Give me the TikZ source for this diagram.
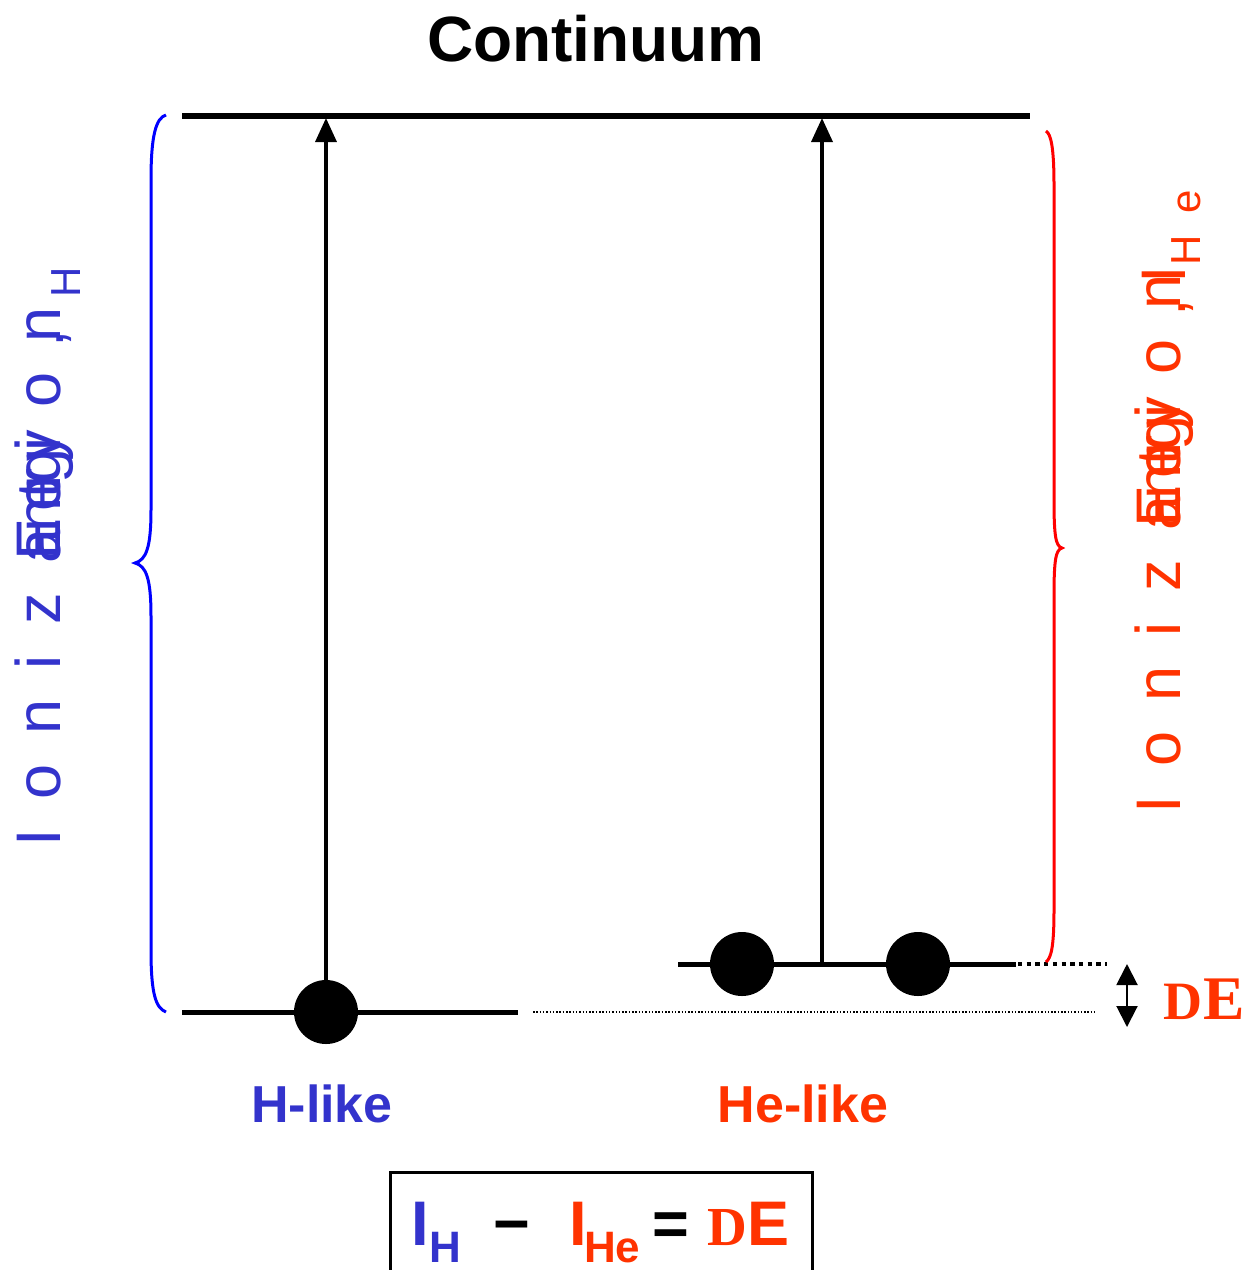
\documentclass[tikz,border=0pt]{standalone}
\usepackage{fontspec}
\setmainfont{Liberation Sans}
\newfontfamily\serifbf{Liberation Serif}
\usetikzlibrary{arrows.meta}
\definecolor{hblue}{HTML}{3333CC}
\definecolor{hered}{HTML}{FF3300}
\definecolor{bblue}{HTML}{0000FF}
\definecolor{bred}{HTML}{FF0000}
\begin{document}
\begin{tikzpicture}[x=1pt,y=-1pt,
  lvl/.style={line width=5pt},
  shaft/.style={line width=3.5pt,-{Triangle[length=24pt,width=21pt]}},
  dotnode/.style={circle,fill=black,minimum size=64pt,inner sep=0pt},
  rotl/.style={rotate=90,anchor=base,inner sep=0pt,font=\fontsize{63}{70}\selectfont},
  rots/.style={rotate=90,anchor=base,inner sep=0pt,font=\fontsize{42}{48}\selectfont},
  lbl/.style={anchor=base,inner sep=0pt,font=\bfseries\fontsize{52}{60}\selectfont},
  eqbig/.style={anchor=base west,inner sep=0pt,font=\bfseries\fontsize{63}{70}\selectfont},
  eqsub/.style={anchor=base west,inner sep=0pt,font=\bfseries\fontsize{44}{50}\selectfont},
  brace/.style={line width=3pt}]
\useasboundingbox (0,0) rectangle (1251,1270);

% title
\node[anchor=base,inner sep=0pt,font=\bfseries\fontsize{64}{70}\selectfont] (cont) at (596,61) {Continuum};

% continuum line
\coordinate (c1) at (182,116);
\coordinate (c2) at (1030,116);
\draw[line width=6pt] (c1) -- (c2);

% H-like level
\coordinate (h1) at (182,1012);
\coordinate (h2) at (518,1012);
\draw[lvl] (h1) -- (h2);
\node[dotnode] (hdot) at (326,1012) {};
\coordinate (tH) at (326,118);
\draw[shaft] (hdot.center) -- (tH);

% He-like level
\coordinate (e1) at (678,964);
\coordinate (e2) at (1016,964);
\draw[lvl] (e1) -- (e2);
\node[dotnode] (edot1) at (742,964) {};
\node[dotnode] (edot2) at (918,964) {};
\coordinate (eb) at (822,964);
\coordinate (tHe) at (822,118);
\draw[shaft] (eb) -- (tHe);

% dotted lines
\coordinate (d1) at (533,1012);
\coordinate (d2) at (1095,1012);
\draw[line width=1.4pt,dash pattern=on 1.5pt off 1.8pt] (d1) -- (d2);
\coordinate (d3) at (1018,964);
\coordinate (d4) at (1107,964);
\draw[line width=4.3pt,dash pattern=on 4.3pt off 4.4pt] (d3) -- (d4);

% Delta E arrow
\coordinate (de1) at (1127,964);
\coordinate (de2) at (1127,1027);
\draw[line width=2pt,{Triangle[length=21pt,width=21pt]}-{Triangle[length=21pt,width=21pt]}] (de1) -- (de2);
\node[anchor=base west,inner sep=0pt,text=hered,font=\serifbf\bfseries\fontsize{54}{60}\selectfont] (dD) at (1163,1019) {D};
\node[anchor=base west,inner sep=0pt,text=hered,font=\serifbf\bfseries\fontsize{62}{70}\selectfont] (dE) at (1203,1019) {E};

% braces
\draw[brace,bblue] (166,115) .. controls (156,118) and (151,135) .. (151,180) -- (151,510)
  .. controls (151,548) and (146,560) .. (135,563) .. controls (146,566) and (151,578) .. (151,616)
  -- (151,950) .. controls (151,995) and (156,1008) .. (166,1012);
\draw[brace,bred] (1046,131) .. controls (1051,134) and (1054,148) .. (1054,185) -- (1054,500)
  .. controls (1054,538) and (1056,546) .. (1062,548) .. controls (1056,550) and (1054,558) .. (1054,596)
  -- (1054,910) .. controls (1054,948) and (1051,958) .. (1046,962);

% left rotated text
\begin{scope}[text=hblue]
\foreach \c/\yy [count=\k] in {I/838,o/782,n/717,i/662,z/609,a/546,t/490,i/444,o/390,n/325}
  \node[rotl] (la\k) at (60,\yy) {\c};
\foreach \c/\yy [count=\k] in {E/539,n/514.5,e/493.5,r/479.5,g/465.5,y/446}
  \node[rotl] (le\k) at (60,\yy) {\c};
\node[rotl] (lcomma) at (63,339) {,};
\node[rots] (lsub) at (80,282) {H};
\end{scope}

% right rotated text
\begin{scope}[text=hered]
\foreach \c/\yy [count=\k] in {I/805,o/749,n/684,i/629,z/576,a/513,t/457,i/411,o/357,n/292}
  \node[rotl] (ra\k) at (1180,\yy) {\c};
\foreach \c/\yy [count=\k] in {E/506,n/481.5,e/460.5,r/446.5,g/432.5,y/413}
  \node[rotl] (re\k) at (1180,\yy) {\c};
\node[rotl] (rbar) at (1185,275) {I};
\node[rotl] (rcomma) at (1185,308) {,};
\node[rots] (rsub1) at (1200,250) {H};
\node[rots] (rsub2) at (1200,202) {e};
\end{scope}

% labels
\node[lbl,text=hblue] (hlike) at (322,1122) {H-like};
\node[lbl,text=hered] (helike) at (803,1122) {He-like};

% equation box
\draw[line width=3.5pt] (390.5,1290) -- (390.5,1172.5) -- (812.5,1172.5) -- (812.5,1290);
\node[eqbig,text=hblue] (eqI1) at (411,1245) {I};
\node[eqsub,text=hblue] (eqH) at (429,1262) {H};
\node[eqbig,text=black] (eqm) at (493,1245) {−};
\node[eqbig,text=hered] (eqI2) at (569,1245) {I};
\node[eqsub,text=hered] (eqHe) at (584,1262) {He};
\node[eqbig,text=black] (eqeq) at (652,1245) {=};
\node[anchor=base west,inner sep=0pt,text=hered,font=\serifbf\bfseries\fontsize{55}{60}\selectfont] (eqD) at (707,1245) {D};
\node[anchor=base west,inner sep=0pt,text=hered,font=\bfseries\fontsize{63}{70}\selectfont] (eqE) at (747,1245) {E};
\end{tikzpicture}
\end{document}
